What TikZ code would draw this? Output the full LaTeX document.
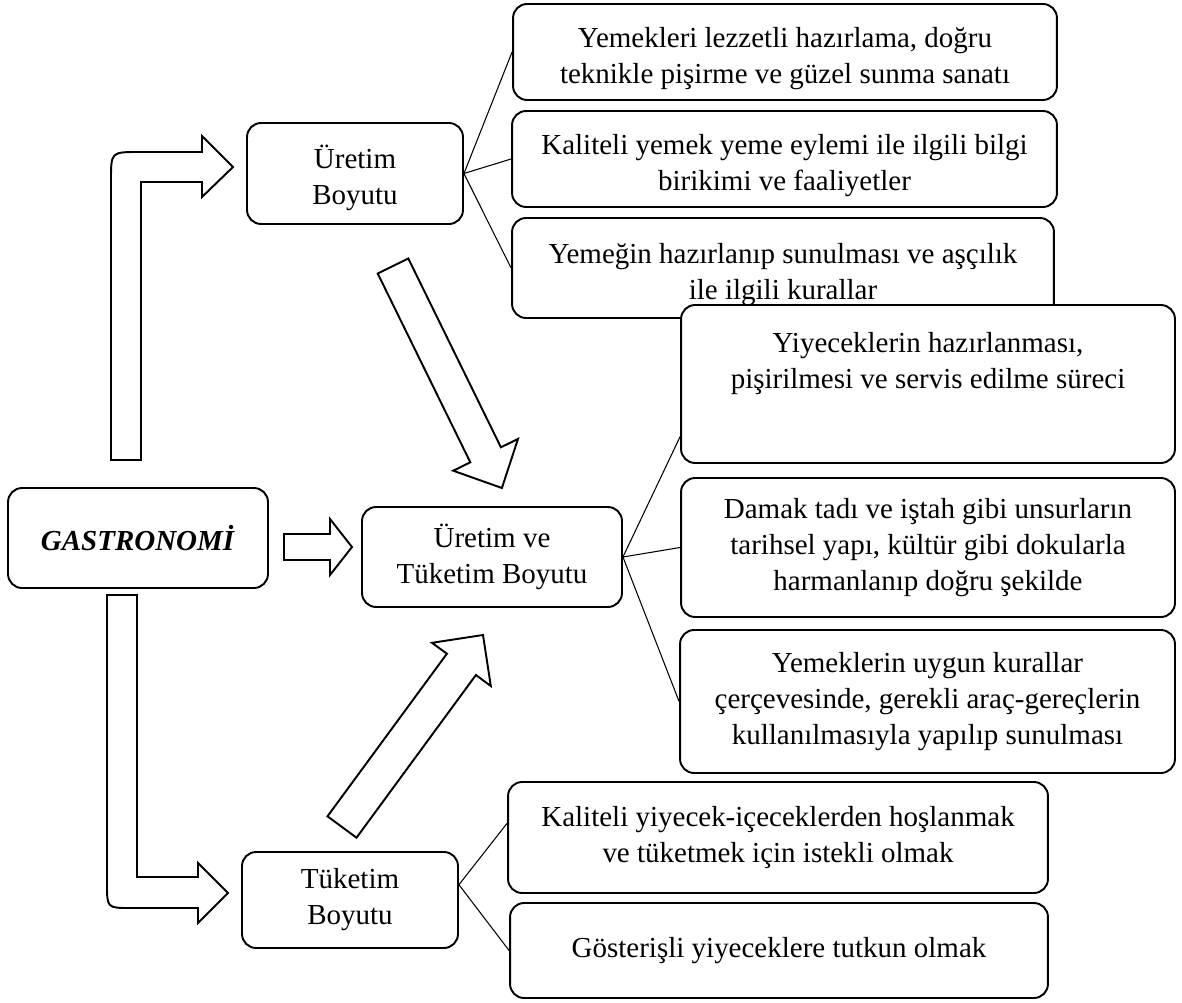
\documentclass[tikz,border=0pt]{standalone}
\usepackage{fontspec}
\setmainfont{Liberation Serif}
\newcommand{\lowr}{\rule{0pt}{18.5pt}}
\begin{document}
\begin{tikzpicture}[x=0.02cm, y=-0.02cm,
  box/.style={draw, fill=white, line width=1.1pt, rounded corners=8pt, align=center, inner sep=2pt, font=\fontsize{16.5}{20.5}\selectfont},
  hollow/.style={draw, line width=1.1pt, fill=white, line join=miter},
  fan/.style={line width=0.6pt}]
\useasboundingbox (0,0) rectangle (1182,1003);

\node[box, minimum width=5.2cm, minimum height=2cm] (g) at (138,538) {\textbf{\textit{GASTRONOMİ}}};
\node[box, minimum width=4.32cm, minimum height=2.02cm] (u) at (355,173.5) {\lowr Üretim\\Boyutu};
\node[box, minimum width=5.2cm, minimum height=2cm] (ut) at (492,557) {Üretim ve\\Tüketim Boyutu};
\node[box, minimum width=4.32cm, minimum height=1.92cm] (t) at (350,900) {Tüketim\\Boyutu};

\node[box, minimum width=10.88cm, minimum height=1.92cm] (a1) at (785,52) {\lowr Yemekleri lezzetli hazırlama, doğru\\teknikle pişirme ve güzel sunma sanatı};
\node[box, minimum width=10.9cm, minimum height=1.92cm] (a2) at (784.5,159) {\lowr Kaliteli yemek yeme eylemi ile ilgili bilgi\\birikimi ve faaliyetler};
\node[box, minimum width=10.84cm, minimum height=2cm] (a3) at (783,268) {\lowr Yemeğin hazırlanıp sunulması ve aşçılık\\ile ilgili kurallar};

\node[box, minimum width=9.88cm, minimum height=3.16cm] (b1) at (928,384) {Yiyeceklerin hazırlanması,\\pişirilmesi ve servis edilme süreci\\\strut};
\node[box, minimum width=9.88cm, minimum height=2.78cm] (b2) at (928,547.5) {Damak tadı ve iştah gibi unsurların\\tarihsel yapı, kültür gibi dokularla\\harmanlanıp doğru şekilde};
\node[box, minimum width=9.9cm, minimum height=2.86cm] (b3) at (927.5,701.5) {Yemeklerin uygun kurallar\\çerçevesinde, gerekli araç-gereçlerin\\kullanılmasıyla yapılıp sunulması};

\node[box, minimum width=10.8cm, minimum height=2.22cm] (c1) at (778,837.5) {Kaliteli yiyecek-içeceklerden hoşlanmak\\ve tüketmek için istekli olmak};
\node[box, minimum width=10.76cm, minimum height=1.9cm] (c2) at (779,950.5) {Gösterişli yiyeceklere tutkun olmak};

\draw[fan] (u.east) -- (a1.west);
\draw[fan] (u.east) -- (a2.west);
\draw[fan] (u.east) -- (a3.west);
\draw[fan] (ut.east) -- (b1.192);
\draw[fan] (ut.east) -- (b2.west);
\draw[fan] (ut.east) -- (b3.west);
\draw[fan] (t.8) -- (c1.177);
\draw[fan] (t.8) -- (c2.west);

\draw[hollow] (111,460) -- (111,180) .. controls (111,152) .. (139,152) -- (202,152) -- (202,136) -- (233,167) -- (202,197) -- (202,182) -- (141,182) -- (141,460) -- cycle;
\draw[hollow] (107,595) -- (137,595) -- (137,877) -- (198,877) -- (198,863) -- (228,893) -- (198,923) -- (198,908) -- (131,908) .. controls (107,908) .. (107,884) -- cycle;
\draw[hollow] (284,534) -- (330,534) -- (330,519) -- (352,547) -- (330,575) -- (330,560) -- (284,560) -- cycle;
\draw[hollow] (377.7,273.5) -- (408.3,258.5) -- (500.9,447.3) -- (518,438.9) -- (501.9,488) -- (453.2,470.7) -- (470.3,462.3) -- cycle;
\draw[hollow] (327.5,816.3) -- (446.9,653.7) -- (432,642.8) -- (483,635) -- (490.8,686) -- (475.9,675) -- (356.5,837.7) -- cycle;
\end{tikzpicture}
\end{document}
